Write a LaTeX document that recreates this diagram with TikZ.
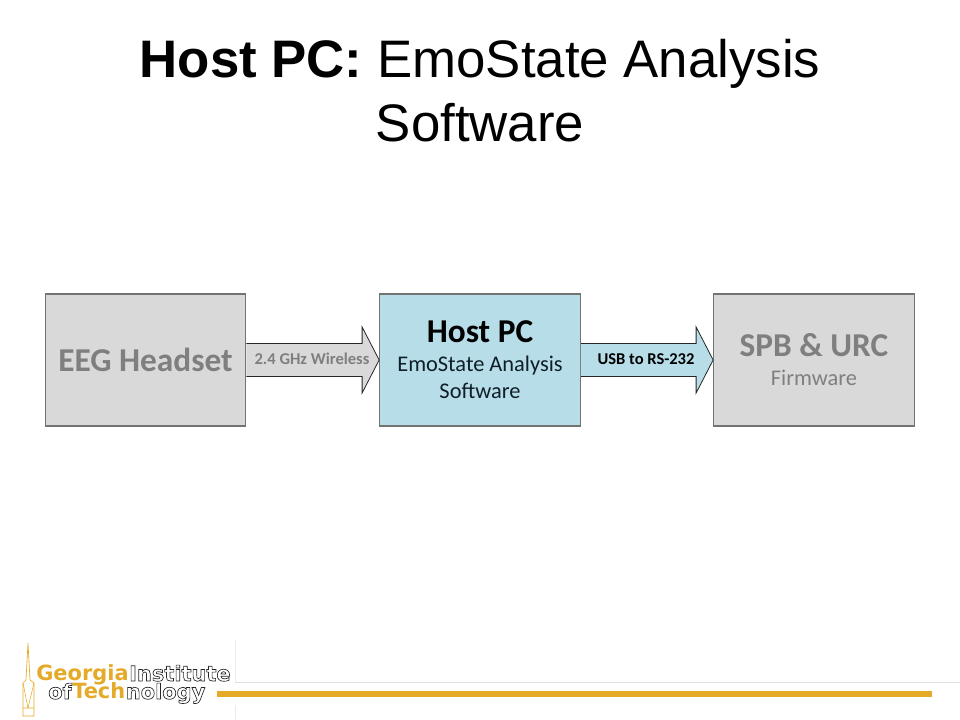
\documentclass[tikz,border=0pt]{standalone}
\usepackage{fontspec}
\setmainfont{Liberation Sans}
\newfontfamily\bodyfont{Carlito}
\newfontfamily\logofont{DejaVu Sans}
\usetikzlibrary{calc}
\definecolor{gtgold}{RGB}{228,170,40}
\definecolor{boxgray}{RGB}{217,217,217}
\definecolor{hostblue}{RGB}{183,221,232}
\definecolor{fadetext}{RGB}{127,127,127}
\definecolor{hosttext}{RGB}{15,30,40}
\newcommand{\outlined}[1]{\special{pdf:code q 1 Tr 0.5 w}#1\special{pdf:code Q}}
\newcommand{\blockarrow}[3]{\draw[arrowline,fill=#3]
	($(#1.east)+(0,-16.5)$) -| ($(#2.west)+(-17,-33)$) -- (#2.west)
	-- ($(#2.west)+(-17,33)$) |- ($(#1.east)+(0,16.5)$);}
\newcommand{\blockhead}[1]{{\fontsize{25}{28}\selectfont\bfseries #1}}
\begin{document}
\begin{tikzpicture}[x=0.75pt,y=0.75pt,
	blockbox/.style={draw=black!55,line width=0.8pt,minimum width=150.5pt,minimum height=99pt,inner sep=0pt,align=center,font=\bodyfont\fontsize{16.8}{20.25}\selectfont},
	arrowline/.style={draw=black!85,line width=0.6pt},
	arrowlabel/.style={font=\bodyfont\bfseries\fontsize{12.4}{14}\selectfont,inner sep=0pt},
	logotext/.style={font=\logofont\bfseries\fontsize{15.7}{16}\selectfont,inner sep=0pt,anchor=base west}]
\useasboundingbox (0,0) rectangle (960,720);
% title
\node[align=center,inner sep=0pt,font=\fontsize{39.6}{48}\selectfont] (title) at (480,629)
	{\textbf{Host PC:} EmoState Analysis\\Software};
% blocks
\node[blockbox,fill=boxgray,text=fadetext] (eeg) at (145.5,360) {\blockhead{EEG Headset}};
\node[blockbox,fill=hostblue,text=hosttext] (host) at (480,360)
	{\textcolor{black}{\blockhead{Host PC}}\\[1.5pt]EmoState Analysis\\Software};
\node[blockbox,fill=boxgray,text=fadetext] (spb) at (814,360)
	{\blockhead{SPB \& URC}\\[1.5pt]Firmware};
% arrows
\blockarrow{eeg}{host}{boxgray}
\blockarrow{host}{spb}{hostblue}
\node[arrowlabel,text=fadetext] (wireless) at (312,361) {2.4 GHz Wireless};
\node[arrowlabel,text=black] (usb) at (646,361) {USB to RS-232};
% footer
\draw[black!12,line width=0.5pt] (235,38) -- (960,38);
\draw[black!8,line width=0.5pt] (235,80) -- (235,38);
\draw[black!8,line width=0.5pt] (235,0) -- (235,15);
\fill[gtgold] (217,23) rectangle (932,29);
% logo
\draw[gtgold,line width=0.5pt] (23,4) -- (34,4) -- (34,37) -- (30,40) -- (28,77) -- (26,40) -- (23,37) -- cycle;
\draw[gtgold,line width=0.4pt] (23,37) -- (28,12) -- (34,37) (23,12) -- (34,12);
\node[logotext,text=gtgold] (georgia) at (36,39) {Georgia};
\node[logotext,text=black!85] (institute) at (georgia.base east) {\outlined{Institute}};
\node[logotext,text=black!85] (of) at (48,21) {\outlined{of}};
\node[logotext,text=gtgold] (tech) at (of.base east) {Tech};
\node[logotext,text=black!85] (nology) at (tech.base east) {\outlined{nology}};
\end{tikzpicture}
\end{document}
